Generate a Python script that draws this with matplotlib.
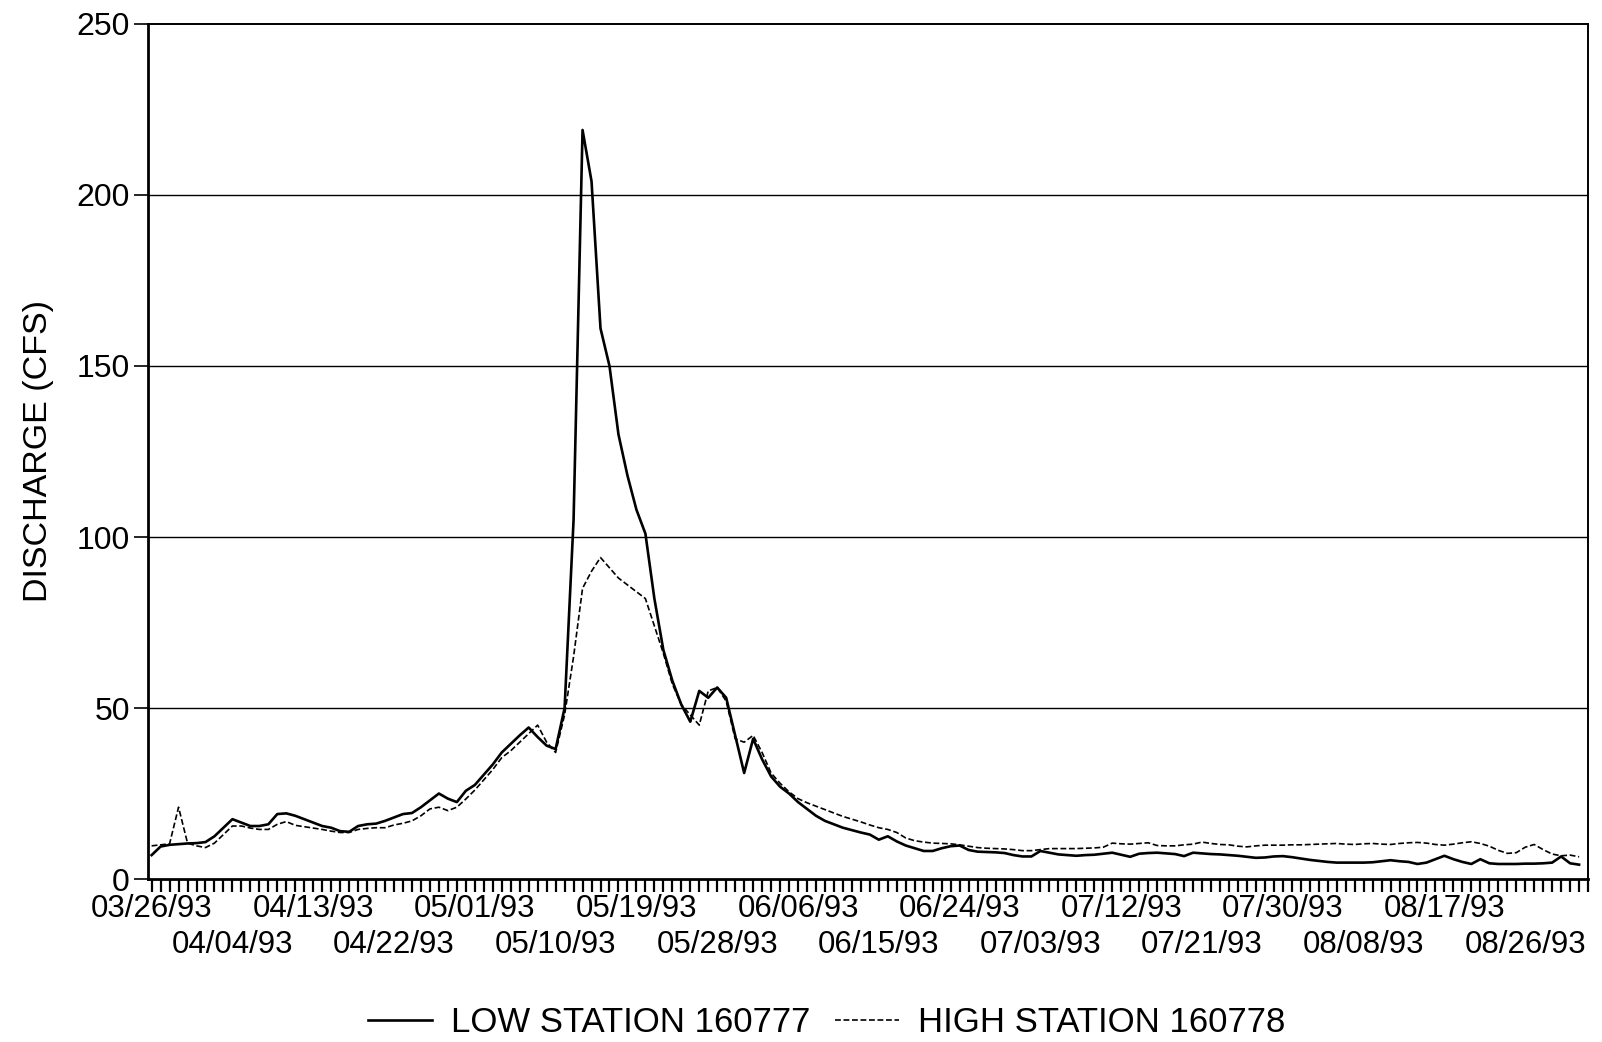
import numpy as np
import pandas as pd
import matplotlib
matplotlib.use("Agg")
import matplotlib.pyplot as plt
from matplotlib.ticker import MultipleLocator

plt.rcParams['font.family'] = ['Liberation Sans', 'DejaVu Sans']

# daily discharge, 03/26/93 .. 09/01/93
start_date = "1993-03-26"

low_station = [
    7, 9.5, 10, 10.2, 10.4, 10.5, 10.8, 12.5, 15, 17.5,
    16.5, 15.5, 15.5, 16, 19, 19.2, 18.5, 17.5, 16.5, 15.5,
    15, 14, 13.8, 15.5, 16, 16.2, 17, 18, 19, 19.3,
    21, 23, 25, 23.5, 22.5, 25.8, 27.5, 30.5, 33.5, 37,
    39.5, 42, 44.3, 41.5, 39, 38, 50, 105, 219, 204,
    161, 150, 130, 118, 108, 101, 82, 67, 58, 51,
    46, 55, 53, 56, 53, 42, 31, 41, 35, 30,
    27, 25, 22.5, 20.5, 18.5, 17, 16, 15, 14.3, 13.6,
    13, 11.5, 12.5, 11, 9.8, 9, 8.2, 8.2, 9, 9.6,
    9.8, 8.5, 8, 7.9, 7.8, 7.6, 7, 6.6, 6.6, 8.2,
    7.7, 7.2, 7, 6.8, 7, 7.1, 7.4, 7.7, 7.1, 6.5,
    7.4, 7.6, 7.7, 7.5, 7.3, 6.7, 7.7, 7.5, 7.3, 7.2,
    7, 6.8, 6.5, 6.2, 6.3, 6.6, 6.7, 6.4, 6, 5.6,
    5.3, 5, 4.8, 4.8, 4.8, 4.8, 4.9, 5.2, 5.5, 5.2,
    5, 4.4, 4.8, 5.8, 6.8, 5.8, 5, 4.4, 5.8, 4.6,
    4.4, 4.4, 4.4, 4.5, 4.5, 4.6, 4.8, 6.6, 4.6, 4.2,
]

high_station = [
    9.7, 10, 10.3, 21, 10.5, 9.7, 9.2, 10.5, 13, 15.5,
    15.5, 14.9, 14.5, 14.5, 16, 16.8, 15.7, 15.3, 14.9, 14.5,
    14, 13.6, 13.6, 14.5, 14.8, 15, 15, 15.8, 16.3, 17,
    18.5, 20.5, 21, 20, 21, 23.4, 26, 29, 32, 35.5,
    37.5, 40, 42.5, 45, 40, 37, 48, 65, 85, 90,
    94, 91, 88, 86, 84, 82, 74, 66, 57, 51,
    48, 45, 55, 56, 52, 41, 40, 42, 37, 31,
    28, 25.5, 23.5, 22.3, 21.3, 20.3, 19.3, 18.3, 17.5, 16.7,
    15.8, 15, 14.5, 13.6, 12, 11.2, 10.8, 10.5, 10.4, 10.3,
    10, 9.6, 9.2, 9, 8.9, 8.8, 8.6, 8.3, 8.3, 8.6,
    8.9, 8.9, 8.9, 8.9, 9, 9.1, 9.3, 10.5, 10.3, 10.2,
    10.4, 10.6, 9.8, 9.7, 9.7, 10, 10.2, 10.8, 10.4, 10.1,
    10, 9.6, 9.4, 9.7, 9.9, 9.9, 9.9, 10, 10, 10.1,
    10.2, 10.3, 10.4, 10.2, 10.1, 10.3, 10.4, 10.2, 10.1, 10.4,
    10.6, 10.7, 10.5, 10.1, 9.9, 10.2, 10.6, 10.9, 10.4, 9.6,
    8.4, 7.5, 7.7, 9.3, 10.1, 8.6, 7.3, 6.8, 7, 6.5,
]

y_ticks = [0, 50, 100, 150, 200, 250]
label_every = 9

dates = pd.date_range(start_date, periods=len(low_station), freq="D")
days = np.arange(len(dates))

fig = plt.figure(figsize=(16.02, 10.42), dpi=100)
ax = fig.add_axes([0.0924, 0.1564, 0.8989, 0.8206])

for y in y_ticks[1:-1]:
    ax.axhline(y, color="black", lw=1.0, zorder=1)

ax.plot(days, low_station, color="black", lw=1.9, label="LOW STATION 160777", zorder=3)
ax.plot(days, high_station, color="black", lw=1.2, linestyle=(0, (3.5, 1.6)),
        label="HIGH STATION 160778", zorder=2)

ax.set_xlim(-0.4, 160)
ax.set_ylim(0, 250)

# daily ticks, labels every 9 days in two staggered rows
lab_days = days[::label_every]
row1 = lab_days[::2]
row2 = lab_days[1::2]
ax.set_xticks(row1)
ax.set_xticklabels([dates[d].strftime("%m/%d/%y") for d in row1], fontsize=22.5)
ax.xaxis.set_minor_locator(MultipleLocator(1))
ax.tick_params(axis="x", which="both", direction="out", length=9, width=1.6, pad=2)

sec = ax.secondary_xaxis("bottom")
sec.set_xticks(row2)
sec.set_xticklabels([dates[d].strftime("%m/%d/%y") for d in row2], fontsize=22.5)
sec.tick_params(axis="x", length=0, pad=36.5)
sec.spines["bottom"].set_visible(False)

ax.set_yticks(y_ticks)
ax.set_yticklabels([str(v) for v in y_ticks], fontsize=23)
ax.tick_params(axis="y", direction="out", length=10, width=1.2, pad=3)

for side in ["left", "bottom"]:
    ax.spines[side].set_linewidth(2.0)
for side in ["top", "right"]:
    ax.spines[side].set_linewidth(1.4)

ax.set_ylabel("DISCHARGE (CFS)", fontsize=24.5, labelpad=16)

fig.legend(loc="center", bbox_to_anchor=(0.516, 0.019), ncol=2, frameon=False,
           fontsize=25, handlelength=1.85, handletextpad=0.55, columnspacing=0.7)

fig.savefig("out.png", dpi=100)
